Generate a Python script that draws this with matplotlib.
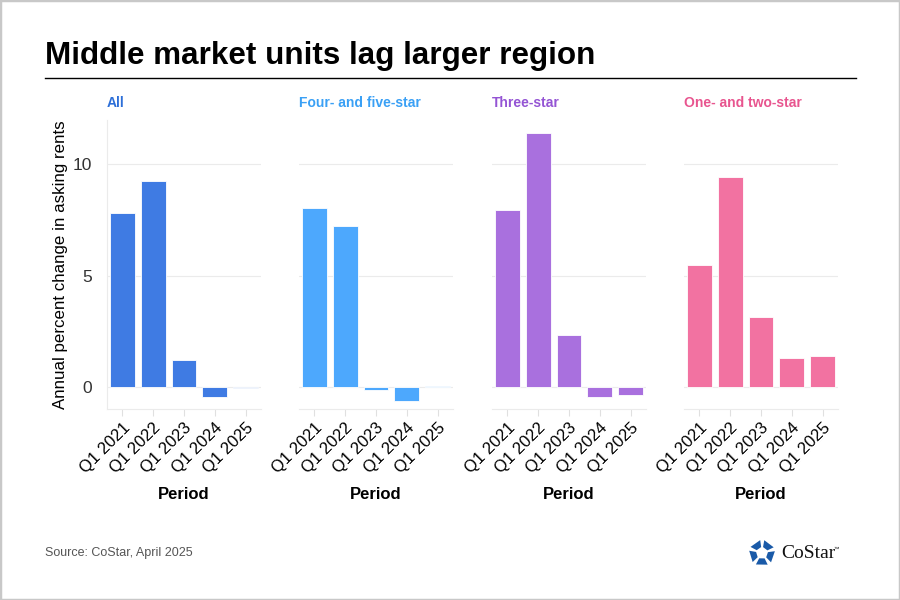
import matplotlib
matplotlib.use("Agg")
import matplotlib.pyplot as plt
import numpy as np
from matplotlib.patches import Rectangle, Polygon

plt.rcParams['font.family'] = ['Liberation Sans', 'DejaVu Sans']

periods = ["Q1 2021", "Q1 2022", "Q1 2023", "Q1 2024", "Q1 2025"]
panel_titles = ["All", "Four- and five-star", "Three-star", "One- and two-star"]
all_vals = [7.82, 9.25, 1.2, -0.44, -0.06]
four_five_vals = [8.05, 7.24, -0.14, -0.65, 0.05]
three_vals = [7.93, 11.4, 2.34, -0.48, -0.36]
one_two_vals = [5.48, 9.45, 3.15, 1.31, 1.4]
series = [all_vals, four_five_vals, three_vals, one_two_vals]
bar_colors = ["#3f7be3", "#4da8fd", "#a970de", "#f272a1"]
title_colors = ["#2d6fd8", "#3aa0f5", "#9454d4", "#e8558f"]

W, H = 900, 600
fig = plt.figure(figsize=(9, 6), dpi=100)

def fx(px):
    return px / W

def fy(py):
    return 1 - py / H

# border
fig.patches.append(Rectangle((0, 0), 1, 1, transform=fig.transFigure, fill=False,
                             edgecolor="#c8c8c8", linewidth=2.5))

fig.text(fx(45), fy(56), "Middle market units lag larger region", fontsize=22.6,
         fontweight="bold", ha="left", va="center", color="black")
fig.add_artist(plt.Line2D([fx(45), fx(856)], [fy(78), fy(78)], transform=fig.transFigure,
                          color="black", linewidth=1))

lefts = [107, 299, 492, 684]
width_px = 154
top_px, bot_px = 120, 409

for i, (vals, ttl) in enumerate(zip(series, panel_titles)):
    ax = fig.add_axes([fx(lefts[i]), fy(bot_px), width_px / W, (bot_px - top_px) / H])
    x = np.arange(len(periods))
    ax.bar(x, vals, width=0.8, color=bar_colors[i], edgecolor="white", linewidth=0.6, zorder=3)
    ax.set_ylim(-1, 12)
    ax.set_xlim(-0.5, 4.5)
    ax.set_yticks([0, 5, 10])
    ax.grid(axis="y", color="#ebebeb", linewidth=0.8, zorder=0)
    for s in ["top", "right"]:
        ax.spines[s].set_visible(False)
    ax.spines["bottom"].set_color("#ebebeb")
    ax.spines["left"].set_color("#ebebeb")
    ax.spines["left"].set_visible(i == 0)
    ax.set_xticks(x)
    ax.set_xticklabels(periods, rotation=45, ha="right", rotation_mode="anchor", fontsize=12)
    ax.tick_params(axis="x", length=5, color="#e0e0e0", pad=3)
    ax.tick_params(axis="y", length=0, labelsize=12.5, colors="#333333", pad=11)
    if i != 0:
        ax.set_yticklabels([])
    else:
        ax.set_ylabel("Annual percent change in asking rents", fontsize=12.2, labelpad=3,
                      color="black")
    ax.set_xlabel("Period", fontsize=12, fontweight="bold", labelpad=8)
    ax.text(0, 1.035, ttl, transform=ax.transAxes, color=title_colors[i], fontsize=10,
            fontweight="bold", ha="left", va="bottom")

fig.text(fx(45), fy(553), "Source: CoStar, April 2025", fontsize=9, color="#555555",
         ha="left", va="center")

# logo approximation
cx, cy = 762, 553
r_out, r_in = 13, 6
for k in range(5):
    a0 = np.deg2rad(90 + k * 72 + 8)
    a1 = np.deg2rad(90 + k * 72 + 62)
    pts = [(cx + r_in * np.cos(a0), cy - r_in * np.sin(a0)),
           (cx + r_out * np.cos(a0), cy - r_out * np.sin(a0)),
           (cx + r_out * np.cos(a1), cy - r_out * np.sin(a1)),
           (cx + r_in * np.cos(a1), cy - r_in * np.sin(a1))]
    fig.patches.append(Polygon([(fx(px), fy(py)) for px, py in pts], closed=True,
                               transform=fig.transFigure, facecolor="#1a5aa8", edgecolor="none"))
fig.text(fx(781), fy(553), "CoStar", fontsize=14, family="Liberation Serif", color="#111111",
         ha="left", va="center")
fig.text(fx(834), fy(549), "™", fontsize=4, color="#111111", ha="left", va="center")

fig.savefig("out.png", dpi=100)
